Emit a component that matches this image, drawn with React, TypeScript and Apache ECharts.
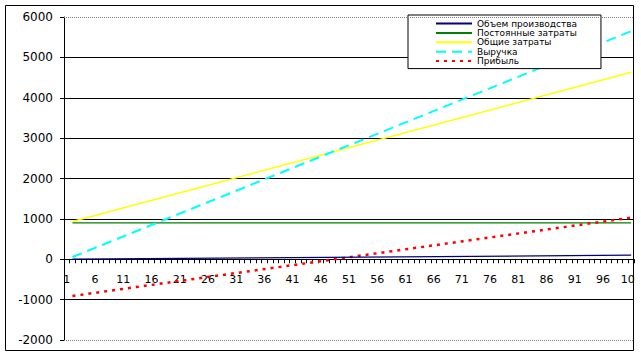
import React, { useEffect, useRef } from "react";
import * as echarts from "echarts";

// x-axis categories (tick labels)
const categories: string[] = [
  "1", "2", "3", "4", "5", "6", "7", "8", "9", "10",
  "11", "12", "13", "14", "15", "16", "17", "18", "19", "20",
  "21", "22", "23", "24", "25", "26", "27", "28", "29", "30",
  "31", "32", "33", "34", "35", "36", "37", "38", "39", "40",
  "41", "42", "43", "44", "45", "46", "47", "48", "49", "50",
  "51", "52", "53", "54", "55", "56", "57", "58", "59", "60",
  "61", "62", "63", "64", "65", "66", "67", "68", "69", "70",
  "71", "72", "73", "74", "75", "76", "77", "78", "79", "80",
  "81", "82", "83", "84", "85", "86", "87", "88", "89", "90",
  "91", "92", "93", "94", "95", "96", "97", "98", "99", "100",
  "101",
];

// The series are straight lines: first and last data points (categories 2 and 101)
const pointCategories = ["2", "101"];
const productionVolume = [1, 100];
const fixedCosts = [900, 900];
const totalCosts = [937, 4630];
const revenue = [56, 5650];
const profit = [-910, 1030];

const seriesNames = [
  "Объем производства",
  "Постоянные затраты",
  "Общие затраты",
  "Выручка",
  "Прибыль",
];

const yMin = -2000;
const yMax = 6000;
const yStep = 1000;

const toPairs = (vals: number[]) => pointCategories.map((c, i) => [c, vals[i]]);

const GRID_TOP = 17;
const GRID_BOTTOM = 17;
const CHART_H = 357;

export default function App() {
  const ref = useRef<HTMLDivElement>(null);

  useEffect(() => {
    if (!ref.current) return;
    const chart = echarts.init(ref.current, null, { renderer: "svg" });
    const font = "DejaVu Sans";
    const gridH = CHART_H - GRID_TOP - GRID_BOTTOM;
    // place the category axis on the zero line of the value axis
    const zeroFromBottom = (gridH * (0 - yMin)) / (yMax - yMin);
    chart.setOption({
      animation: false,
      backgroundColor: "#ffffff",
      textStyle: { fontFamily: font },
      grid: {
        left: 64,
        right: 7,
        top: GRID_TOP,
        bottom: GRID_BOTTOM,
        containLabel: false,
        outerBoundsMode: "none",
      },
      legend: {
        orient: "vertical",
        left: 408,
        top: 15,
        padding: [4, 24, 3, 27],
        backgroundColor: "#ffffff",
        borderColor: "#000000",
        borderWidth: 1,
        borderRadius: 0,
        itemWidth: 36,
        itemHeight: 8,
        itemGap: 0.4,
        itemTextGap: 2,
        itemStyle: { opacity: 0 },
        textStyle: { fontSize: 9, color: "#000000", lineHeight: 9, fontFamily: font },
        data: seriesNames,
      },
      xAxis: {
        type: "category",
        data: categories,
        boundaryGap: true,
        offset: -zeroFromBottom,
        axisLine: { onZero: false, lineStyle: { color: "#000000", width: 1 } },
        axisTick: { show: true, interval: 0, length: 4, lineStyle: { color: "#000000" } },
        axisLabel: { interval: 4, color: "#000000", fontSize: 11, margin: 15, fontFamily: font },
        splitLine: { show: false },
      },
      yAxis: {
        type: "value",
        min: yMin,
        max: yMax,
        interval: yStep,
        axisLine: { show: true, onZero: false, lineStyle: { color: "#000000", width: 1 } },
        axisTick: { show: true, length: 4, lineStyle: { color: "#000000" } },
        axisLabel: {
          color: "#000000",
          fontSize: 12,
          margin: 11,
          fontFamily: font,
          formatter: (v: number) => String(v),
        },
        splitLine: {
          show: true,
          showMinLine: false,
          showMaxLine: false,
          lineStyle: { color: "#000000", width: 1 },
        },
      },
      graphic: [
        {
          type: "rect",
          silent: true,
          z: 100,
          shape: { x: 5.5, y: 5.5, width: 628, height: 345 },
          style: { fill: "none", stroke: "#000000", lineWidth: 1 },
        },
      ],
      series: [
        {
          name: seriesNames[0],
          type: "line",
          data: toPairs(productionVolume),
          symbol: "none",
          color: "#000080",
          lineStyle: { color: "#000080", width: 1.3 },
          z: 5,
        },
        {
          name: seriesNames[1],
          type: "line",
          data: toPairs(fixedCosts),
          symbol: "none",
          color: "#008000",
          lineStyle: { color: "#008000", width: 1.3 },
          markLine: {
            silent: true,
            symbol: ["none", "none"],
            label: { show: false },
            lineStyle: { color: "#808080", type: [1, 1], width: 1 },
            data: [{ yAxis: yMax }, { yAxis: yMin }],
          },
        },
        {
          name: seriesNames[2],
          type: "line",
          data: toPairs(totalCosts),
          symbol: "none",
          color: "#ffff00",
          lineStyle: { color: "#ffff00", width: 1.5 },
        },
        {
          name: seriesNames[3],
          type: "line",
          data: toPairs(revenue),
          symbol: "none",
          color: "#00ffff",
          lineStyle: { color: "#00ffff", width: 2, type: [10, 6] },
        },
        {
          name: seriesNames[4],
          type: "line",
          data: toPairs(profit),
          symbol: "none",
          color: "#ff0000",
          lineStyle: { color: "#ff0000", width: 2.5, type: [3, 5] },
        },
      ],
    });
    return () => chart.dispose();
  }, []);

  return (
    <div
      style={{
        position: "fixed",
        left: 0,
        top: 0,
        width: 635,
        height: 357,
        overflow: "hidden",
        background: "#ffffff",
      }}
    >
      <div ref={ref} style={{ width: 641, height: 357 }} />
    </div>
  );
}
